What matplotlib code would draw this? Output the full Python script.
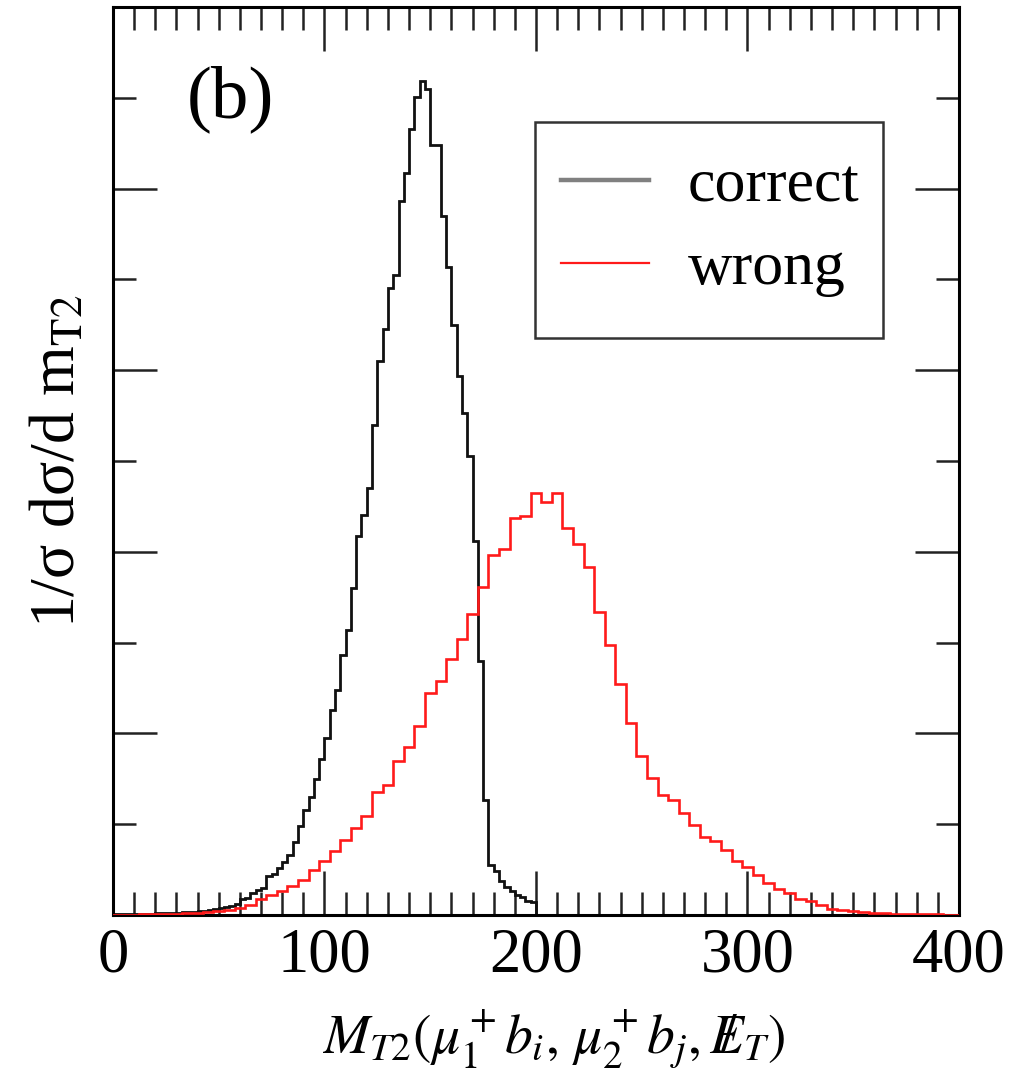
import matplotlib
matplotlib.use("Agg")
import matplotlib.pyplot as plt
from matplotlib.lines import Line2D
from matplotlib.patches import Rectangle
import numpy as np

plt.rcParams['font.family'] = ['Liberation Serif', 'DejaVu Serif']
plt.rcParams['mathtext.fontset'] = 'stix'

# histogram bins (GeV)
correct_edges = np.arange(0, 202.5, 2.5)
wrong_edges = np.arange(-2.5, 405, 5)

# "correct" pairing, 2.5 GeV bins from 0 to 200
correct = [0.01, 0.01, 0.01, 0.01, 0.01, 0.01, 0.01, 0.015, 0.02, 0.02,
           0.02, 0.02, 0.025, 0.03, 0.03, 0.035, 0.04, 0.045, 0.05, 0.06,
           0.08, 0.09, 0.10, 0.12, 0.17, 0.19, 0.24, 0.27, 0.30, 0.43,
           0.45, 0.52, 0.58, 0.66, 0.80, 0.98, 1.15, 1.30, 1.50, 1.72,
           1.95, 2.26, 2.48, 2.86, 3.14, 3.60, 4.17, 4.40, 4.70, 5.40,
           6.10, 6.45, 6.90, 7.05, 7.86, 8.17, 8.66, 9.01, 9.18, 9.10,
           8.48, 8.48, 7.70, 7.14, 6.50, 5.94, 5.53, 5.05, 4.12, 2.80,
           1.27, 0.55, 0.48, 0.37, 0.31, 0.26, 0.22, 0.20, 0.15, 0.14]

# "wrong" pairing, 5 GeV bins
wrong = [0, 0, 0, 0.005, 0.01, 0.01, 0.015, 0.02, 0.02, 0.03,
         0.04, 0.05, 0.08, 0.11, 0.18, 0.22, 0.26, 0.32, 0.38, 0.49,
         0.59, 0.70, 0.82, 0.96, 1.09, 1.35, 1.43, 1.70, 1.85, 2.08,
         2.44, 2.58, 2.82, 3.04, 3.31, 3.61, 3.96, 4.03, 4.37, 4.39,
         4.65, 4.55, 4.65, 4.26, 4.09, 3.83, 3.34, 2.97, 2.54, 2.11,
         1.75, 1.51, 1.32, 1.27, 1.12, 0.99, 0.86, 0.81, 0.72, 0.59,
         0.53, 0.44, 0.35, 0.28, 0.24, 0.18, 0.15, 0.11, 0.07, 0.05,
         0.04, 0.03, 0.02, 0.02, 0.01, 0.01, 0.01, 0.005, 0.005, 0, 0]

fig = plt.figure(figsize=(10.18, 10.84), dpi=100)
ax = fig.add_axes([0.111, 0.156, 0.831, 0.8375])

ax.stairs(correct, correct_edges, color='#111111', lw=2.0, baseline=0, zorder=2)
ax.stairs(wrong, wrong_edges, color='#ff1a1a', lw=1.9, baseline=0, zorder=3)

ax.set_xlim(0, 400)
ax.set_ylim(0, 10)
ax.set_xticks(np.arange(0, 401, 100))
ax.set_xticks(np.arange(0, 401, 10), minor=True)
ax.set_yticks(np.arange(0, 11, 2))
ax.set_yticks(np.arange(0, 11, 1), minor=True)
ax.tick_params(which='both', direction='in', top=True, right=True,
               width=1.8, color='#222222')
ax.tick_params(which='major', length=32, labelsize=45, pad=9)
ax.tick_params(which='minor', length=16.5)
ax.tick_params(axis='y', labelleft=False)
for s in ax.spines.values():
    s.set_linewidth(2.2)

ax.text(0.139, 0.898, '(b)', transform=ax.transAxes, fontsize=54,
        ha='center', va='center')

# legend: entries without frame, box drawn separately
handles = [Line2D([], [], color='#808080', lw=3.2),
           Line2D([], [], color='#ff1a1a', lw=1.6)]
leg = ax.legend(handles, ['correct', 'wrong'], loc='upper left',
                bbox_to_anchor=(0.530, 0.833), borderaxespad=0,
                fontsize=44.5, frameon=False, borderpad=0,
                handlelength=1.42, handletextpad=0.62, labelspacing=0.42)
ax.add_patch(Rectangle((0.499, 0.635), 0.411, 0.238, transform=ax.transAxes,
                       fill=False, edgecolor='#333333', lw=1.8, zorder=5))

ax.set_ylabel(r'1/σ dσ/d m$_{\mathrm{T2}}$', fontsize=46, labelpad=14)
fig.text(0.544, 0.041, r'$M_{T2}(\mu_1^+b_i,\,\mu_2^+b_j,\;{/}\!\!\!\!E_T)$',
         fontsize=40, ha='center', va='center')

fig.savefig('out.png', dpi=100)
